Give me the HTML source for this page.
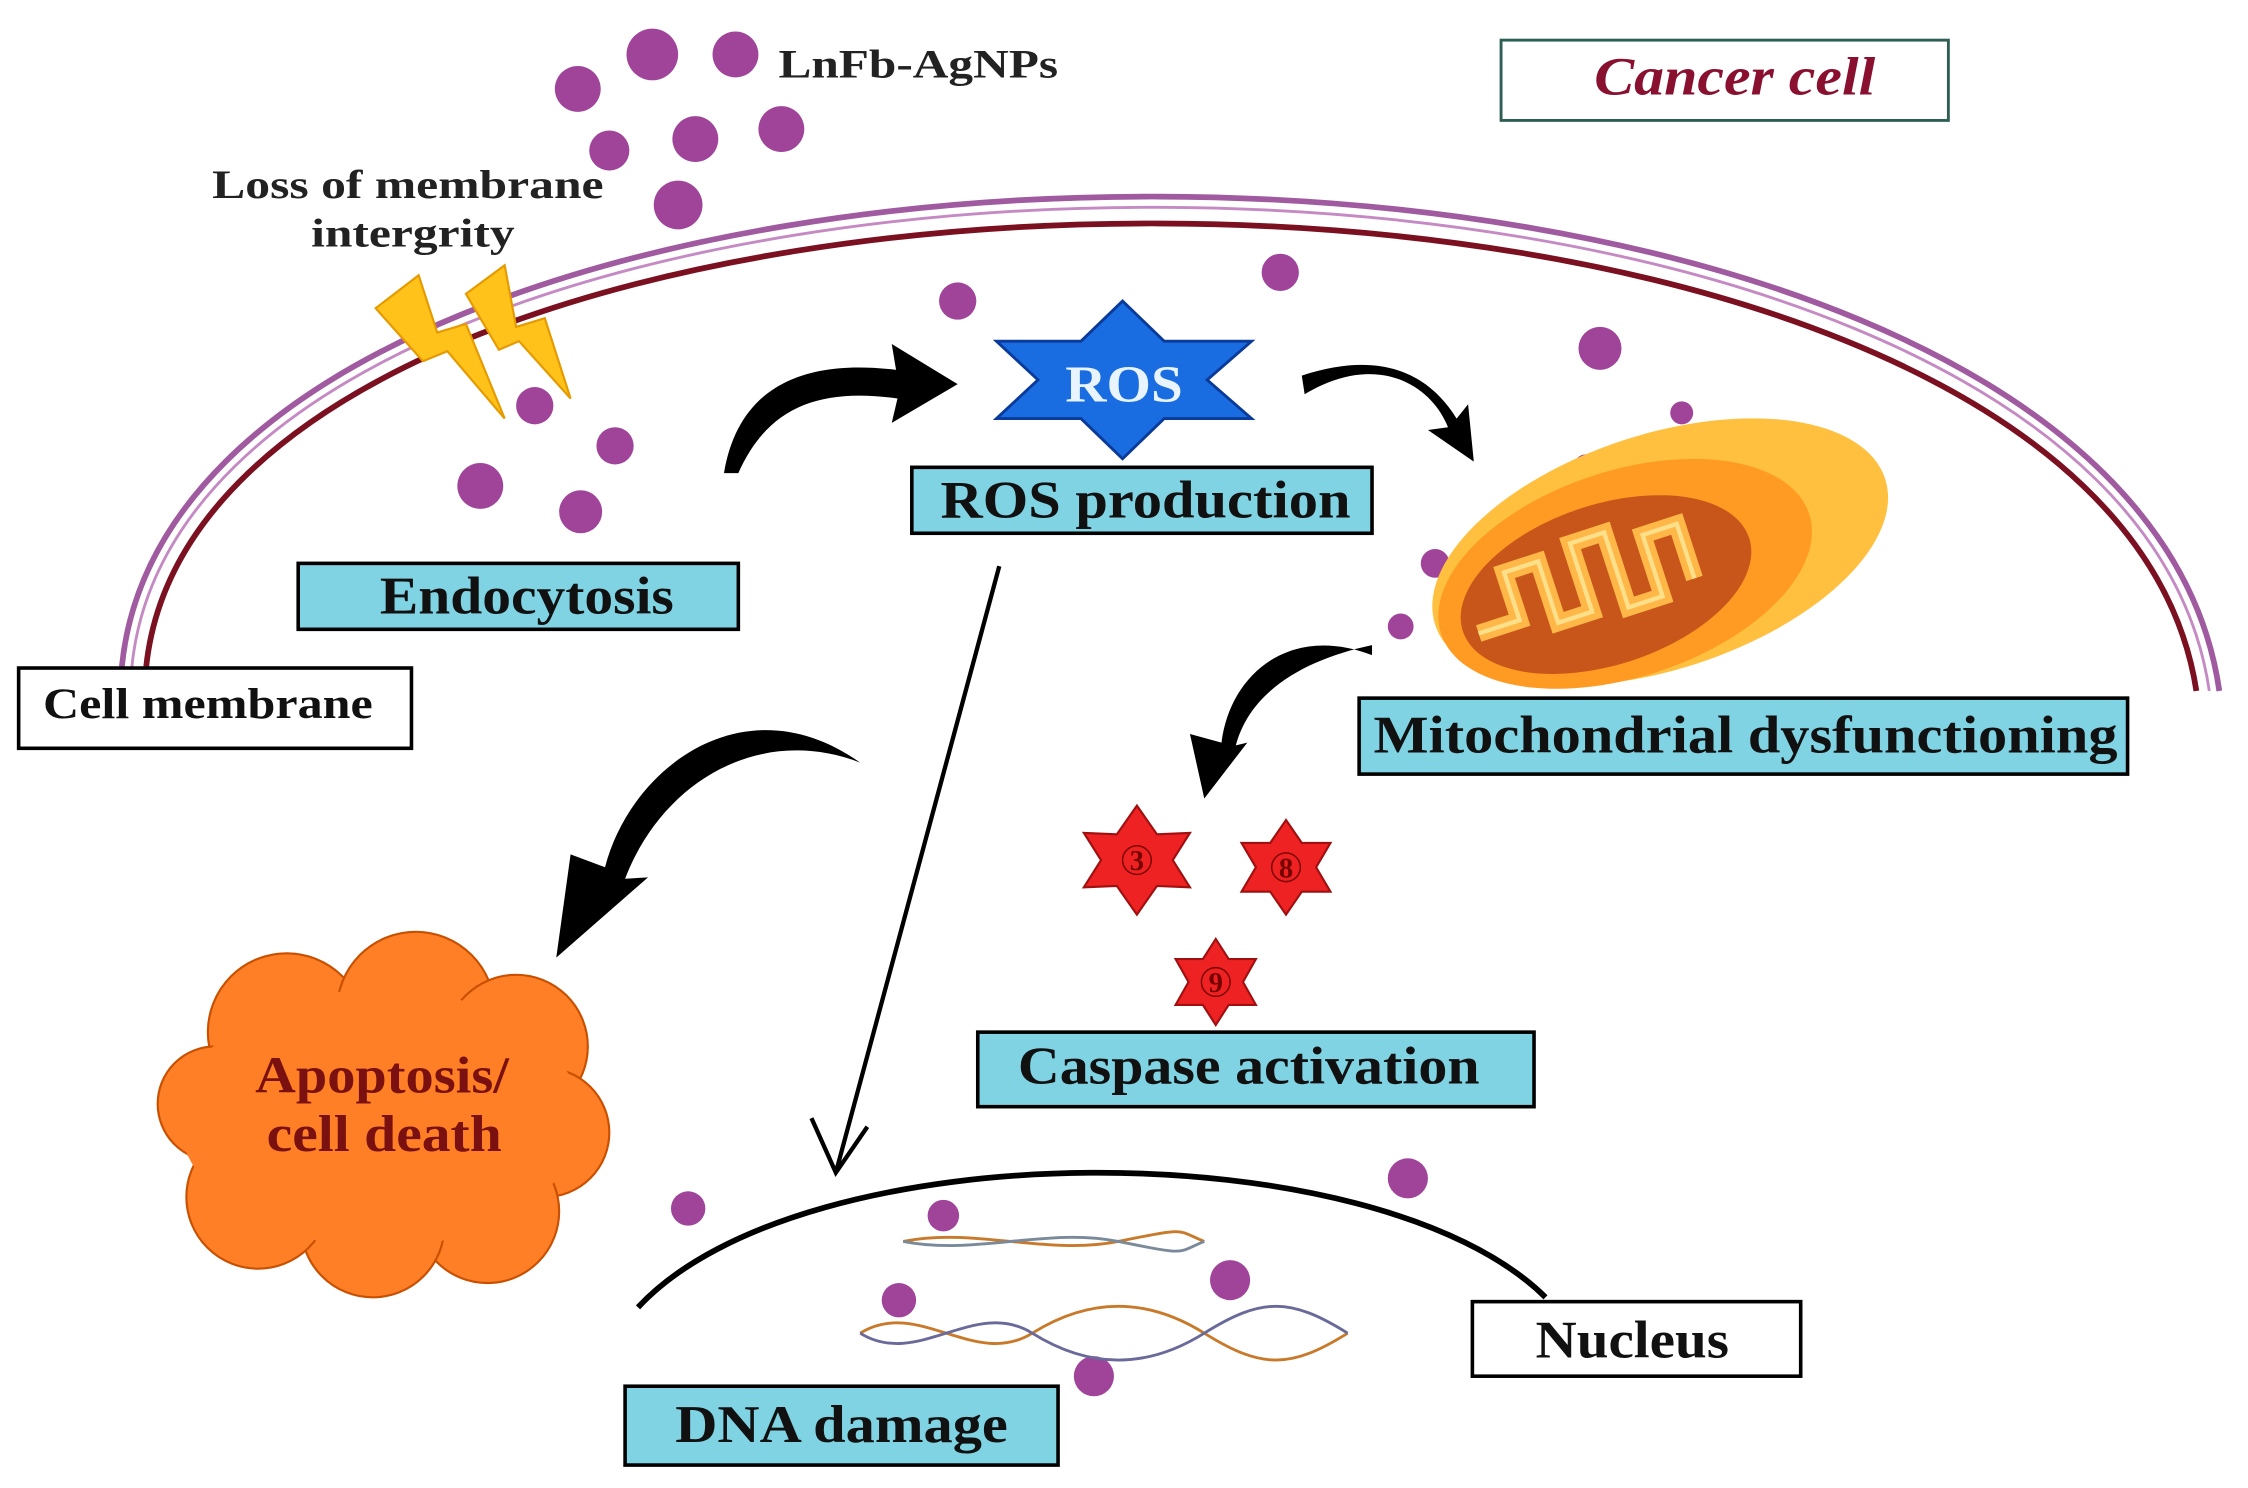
<!DOCTYPE html>
<html><head><meta charset="utf-8"><style>html,body{margin:0;padding:0;background:#fff}svg{display:block}</style></head>
<body>
<svg width="2248" height="1488" viewBox="0 0 1568 1038" preserveAspectRatio="none" xmlns="http://www.w3.org/2000/svg" font-family="Liberation Serif, serif" font-weight="bold">
<rect width="1568" height="1038" fill="#fff"/>
<!-- membranes -->
<path d="M85,465 C 128,30 1482,20 1548,482" fill="none" stroke="#a05aa0" stroke-width="4"/>
<path d="M92,465 C 135,40 1475,30 1541,482" fill="none" stroke="#c58ac3" stroke-width="2"/>
<path d="M102,465 C 145,55 1465,45 1532,482" fill="none" stroke="#7a1020" stroke-width="4"/>
<!-- lightning -->
<polygon points="262,215 292,192 305,232 325,226 352,292 312,245 295,252" fill="#ffc21a" stroke="#e59a00" stroke-width="1.5"/>
<polygon points="325,205 352,185 360,228 380,222 398,278 362,238 348,244" fill="#ffc21a" stroke="#e59a00" stroke-width="1.5"/>
<!-- nanoparticles -->
<g fill="#a0449a">
<circle cx="455" cy="38" r="18"/><circle cx="513" cy="38" r="16"/><circle cx="403" cy="62" r="16"/>
<circle cx="425" cy="105" r="14"/><circle cx="485" cy="97" r="16"/><circle cx="545" cy="90" r="16"/>
<circle cx="473" cy="143" r="17"/><circle cx="668" cy="210" r="13"/><circle cx="893" cy="190" r="13"/>
<circle cx="1116" cy="243" r="15"/><circle cx="1173" cy="288" r="8"/><circle cx="1106" cy="325" r="8"/>
<circle cx="1001" cy="393" r="10"/><circle cx="977" cy="437" r="9"/><circle cx="373" cy="283" r="13"/>
<circle cx="429" cy="311" r="13"/><circle cx="335" cy="339" r="16"/><circle cx="405" cy="357" r="15"/>
<circle cx="480" cy="843" r="12"/><circle cx="658" cy="848" r="11"/><circle cx="982" cy="822" r="14"/>
<circle cx="858" cy="893" r="14"/><circle cx="627" cy="907" r="12"/><circle cx="763" cy="960" r="14"/>
</g>
<text x="543" y="54" font-size="28" fill="#222" textLength="195" lengthAdjust="spacingAndGlyphs">LnFb-AgNPs</text>
<text x="148" y="138" font-size="28" fill="#222" textLength="273" lengthAdjust="spacingAndGlyphs">Loss of membrane</text>
<text x="217" y="172" font-size="28" fill="#222" textLength="142" lengthAdjust="spacingAndGlyphs">intergrity</text>
<!-- Cancer cell -->
<rect x="1047" y="28" width="312" height="56" fill="#fff" stroke="#2d5d55" stroke-width="2"/>
<text x="1112" y="66" font-size="38" font-style="italic" fill="#8a1030" textLength="196" lengthAdjust="spacingAndGlyphs">Cancer cell</text>
<!-- ROS star -->
<polygon points="783,210 812,238 873,238 842,265 873,292 812,292 783,320 754,292 695,292 724,265 695,238 754,238" fill="#1a6de0" stroke="#0a3a9a" stroke-width="2"/>
<text x="743" y="280" font-size="36" fill="#e8f4ff" textLength="82" lengthAdjust="spacingAndGlyphs">ROS</text>
<!-- mitochondrion -->
<g transform="rotate(-18 1158 385)">
<ellipse cx="1158" cy="385" rx="165" ry="82" fill="#ffc040"/>
<ellipse cx="1130" cy="392" rx="135" ry="72" fill="#ff9a22"/>
<ellipse cx="1115" cy="395" rx="105" ry="56" fill="#c8561a"/>
<path d="M1020,400 h30 v-35 h25 v45 h25 v-50 h25 v55 h25 v-45 h25 v40" fill="none" stroke="#ffb848" stroke-width="12"/>
<path d="M1020,400 h30 v-35 h25 v45 h25 v-50 h25 v55 h25 v-45 h25 v40" fill="none" stroke="#ffe08a" stroke-width="3"/>
</g>
<!-- curved arrows -->
<g fill="#000">
<path d="M505,330 C 515,270 560,250 625,258 L622,240 L668,268 L622,295 L626,278 C 570,270 535,285 515,330 Z"/>
<path d="M910,275 C 960,245 998,268 1010,298 L996,300 L1028,322 L1024,282 L1016,292 C 995,258 960,245 908,262 Z"/>
<path d="M957,457 C 900,435 858,470 852,518 L830,512 L840,557 L870,518 L862,520 C 872,482 910,460 957,450 Z"/>
<path d="M600,532 C 520,475 440,535 422,605 L398,596 L388,668 L452,612 L436,613 C 462,545 530,505 600,532 Z"/>
</g>
<!-- straight arrow -->
<line x1="697" y1="395" x2="583" y2="818" stroke="#000" stroke-width="3"/>
<polyline points="566,780 583,818 605,786" fill="none" stroke="#000" stroke-width="3"/>
<!-- nucleus arc -->
<path d="M445,912 C 560,788 960,788 1078,905" fill="none" stroke="#000" stroke-width="4"/>
<!-- DNA -->
<g stroke-width="2" fill="none">
<path d="M600,930 C 640,905 680,955 720,930 S 800,905 840,930 S 900,955 940,930" stroke="#c87a2a"/>
<path d="M600,930 C 640,955 680,905 720,930 S 800,955 840,930 S 900,905 940,930" stroke="#6a6a9a"/>
<path d="M630,866 C 680,856 730,876 780,866 S 820,858 840,866" stroke="#c87a2a"/>
<path d="M630,866 C 680,876 730,856 780,866 S 820,874 840,866" stroke="#7a8a9a"/>
</g>
<!-- apoptosis cloud -->
<g fill="#ff7f27" stroke="#c85000" stroke-width="1.5">
<circle cx="200" cy="720" r="55"/><circle cx="290" cy="705" r="55"/><circle cx="360" cy="730" r="50"/>
<circle cx="380" cy="790" r="45"/><circle cx="340" cy="845" r="50"/><circle cx="260" cy="855" r="50"/>
<circle cx="180" cy="835" r="50"/><circle cx="150" cy="770" r="40"/>
</g>
<ellipse cx="265" cy="780" rx="140" ry="90" fill="#ff7f27"/>
<text x="178" y="762" font-size="36" fill="#7a1010" textLength="177" lengthAdjust="spacingAndGlyphs">Apoptosis/</text>
<text x="186" y="803" font-size="36" fill="#7a1010" textLength="164" lengthAdjust="spacingAndGlyphs">cell death</text>
<!-- caspase stars -->
<g fill="#ee2222" stroke="#a01010" stroke-width="1.5">
<polygon points="793,562 807,582 830,581 818,600 830,619 807,618 793,638 779,618 756,619 768,600 756,581 779,582"/>
<polygon points="897,572 908,588 928,588 918,605 928,622 908,622 897,638 886,622 866,622 876,605 866,588 886,588"/>
<polygon points="848,655 857,669 876,669 867,685 876,701 857,701 848,715 839,701 820,701 829,685 820,669 839,669"/>
</g>
<g font-size="20" fill="#700" text-anchor="middle">
<circle cx="793" cy="600" r="10" fill="none" stroke="#700"/><text x="793" y="607">3</text>
<circle cx="897" cy="605" r="10" fill="none" stroke="#700"/><text x="897" y="612">8</text>
<circle cx="848" cy="685" r="10" fill="none" stroke="#700"/><text x="848" y="692">9</text>
</g>
<!-- boxes -->
<g stroke="#000" stroke-width="2.5" fill="#7fd3e3">
<rect x="208" y="393" width="307" height="46"/>
<rect x="636" y="326" width="321" height="46"/>
<rect x="948" y="487" width="536" height="53"/>
<rect x="682" y="720" width="388" height="52"/>
<rect x="436" y="967" width="302" height="55"/>
</g>
<g stroke="#000" stroke-width="2.5" fill="#fff">
<rect x="13" y="466" width="274" height="56"/>
<rect x="1027" y="908" width="229" height="52"/>
</g>
<g font-size="37" fill="#111" lengthAdjust="spacingAndGlyphs">
<text x="265" y="428" textLength="205" lengthAdjust="spacingAndGlyphs">Endocytosis</text>
<text x="656" y="361" textLength="286" lengthAdjust="spacingAndGlyphs">ROS production</text>
<text x="958" y="525" textLength="519" lengthAdjust="spacingAndGlyphs">Mitochondrial dysfunctioning</text>
<text x="710" y="756" textLength="322" lengthAdjust="spacingAndGlyphs">Caspase activation</text>
<text x="471" y="1006" textLength="232" lengthAdjust="spacingAndGlyphs">DNA damage</text>
<text x="1071" y="947" textLength="135" lengthAdjust="spacingAndGlyphs">Nucleus</text>
<text x="30" y="501" font-size="30" textLength="230" lengthAdjust="spacingAndGlyphs">Cell membrane</text>
</g>
</svg>
</body></html>
